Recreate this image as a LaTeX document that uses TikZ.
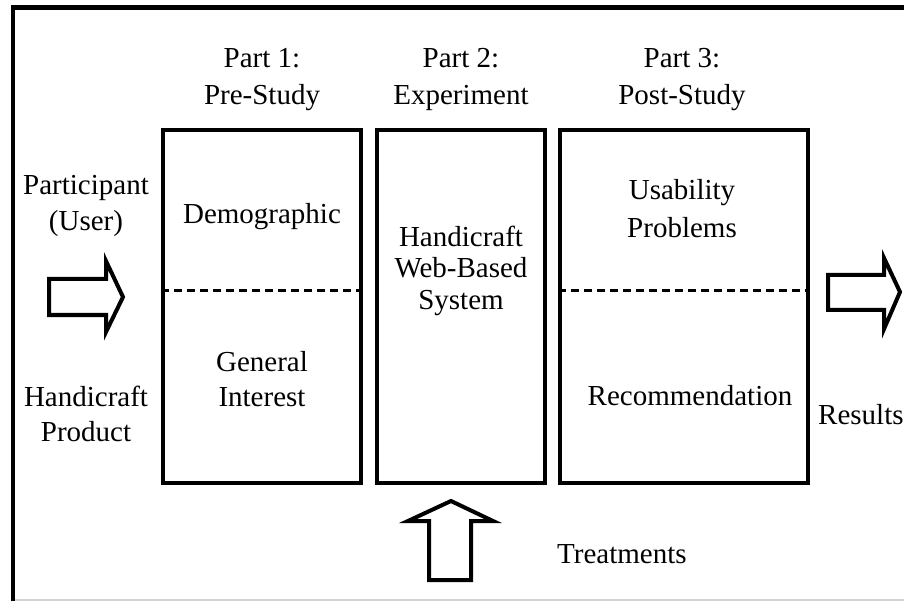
\documentclass[tikz,border=0pt]{standalone}
\usepackage{fontspec}
\setmainfont{Liberation Serif}
\begin{document}
\begin{tikzpicture}[x=1pt,y=-1pt,
    stage/.style={draw,line width=4pt,minimum width=#1,minimum height=353pt,inner sep=0pt},
    divider/.style={line width=3pt,dash pattern=on 8pt off 5pt},
    blockarrow/.style={draw,line width=4pt,line join=miter,miter limit=20},
    lbl/.style={align=center,inner sep=0pt,font=\fontsize{29}{37}\selectfont}]

  \useasboundingbox (0,0) rectangle (904,601);

  % frame
  \draw[line width=4.5pt] (904,7.5) -- (13,7.5) -- (13,601);
  \draw[gray!35,line width=1.5pt] (15,600) -- (904,600);

  % the three parts
  \node[stage=198] (pre)  at (262,306.5) {};
  \node[stage=168] (exp)  at (461,306.5) {};
  \node[stage=248] (post) at (684,306.5) {};

  \coordinate (cut) at (0,291);
  \draw[divider] (pre.west |- cut) -- (pre.east |- cut);
  \draw[divider] (post.west |- cut) -- (post.east |- cut);

  \begin{scope}[every node/.style={lbl}]
    \node (h1) at (262,79.5) {Part 1:\\Pre-Study};
    \node (h2) at (461,79) {Part 2:\\Experiment};
    \node (h3) at (682,79.5) {Part 3:\\Post-Study};

    \node[font=\fontsize{29}{36}\selectfont] (user) at (86,206) {Participant\\(User)};
    \node[font=\fontsize{29}{35}\selectfont] (prod) at (86,414) {Handicraft\\Product};

    \node[anchor=base] (demo) at (262,224) {Demographic};
    \node[font=\fontsize{29}{35}\selectfont] (gen) at (262,379) {General\\Interest};

    \node[font=\fontsize{29}{31.5}\selectfont] (sys) at (461,270.5) {Handicraft\\Web-Based\\System};

    \node[font=\fontsize{29}{38}\selectfont] (usab) at (682,209) {Usability\\Problems};
    \node[anchor=base] (rec) at (690,405) {Recommendation};

    \node[anchor=base west] (res) at (818,424) {Results};
    \node[anchor=west] (treat) at (557,554) {Treatments};
  \end{scope}

  % block arrows
  \draw[blockarrow] (49,279) -- (106,279) -- (106,261) -- (123,297)
    -- (106,332) -- (106,315) -- (49,315) -- cycle;
  \draw[blockarrow] (828,275) -- (884,275) -- (884,258) -- (900,292)
    -- (884,329) -- (884,310) -- (828,310) -- cycle;
  \draw[blockarrow] (429,580) -- (429,521) -- (408,521) -- (451,501)
    -- (493,521) -- (471,521) -- (471,580) -- cycle;

\end{tikzpicture}
\end{document}
